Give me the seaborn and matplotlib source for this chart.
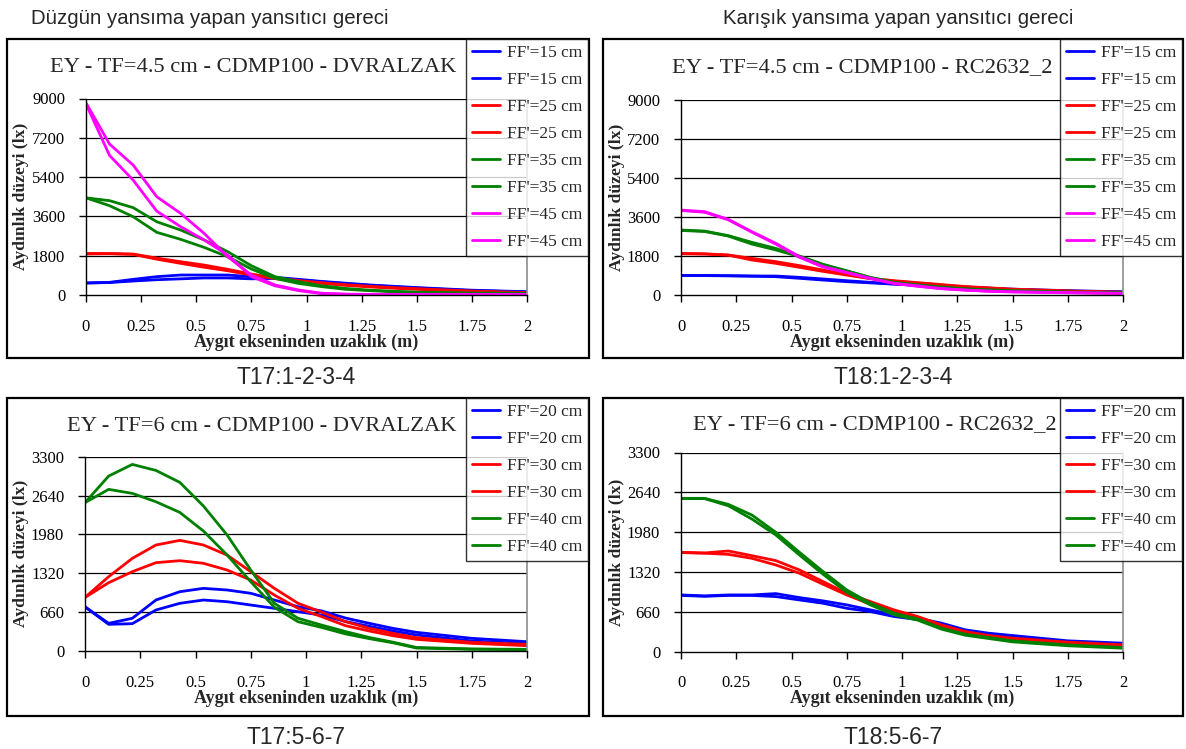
import numpy as np
import pandas as pd
import matplotlib
matplotlib.use("Agg")
import matplotlib.pyplot as plt
from matplotlib.patches import Rectangle
import seaborn as sns

sns.set_theme(style="white")
plt.rcParams["font.family"] = ["Liberation Serif", "DejaVu Serif"]

# Distance from the luminaire axis (m)
distance = [0, 0.107, 0.214, 0.321, 0.429, 0.536, 0.643, 0.75, 0.857, 0.964,
            1.071, 1.179, 1.286, 1.393, 1.5, 1.75, 2.0]

# T17:1-2-3-4  (TF=4.5 cm, DVRALZAK)
t17a_ff15_1 = [550, 580, 717, 840, 915, 915, 915, 840, 810, 717, 620, 540, 460, 400, 340, 220, 150]
t17a_ff15_2 = [550, 570, 640, 700, 740, 780, 780, 740, 760, 690, 600, 520, 440, 380, 320, 200, 140]
t17a_ff25_1 = [1900, 1900, 1875, 1690, 1525, 1370, 1175, 960, 780, 660, 560, 470, 400, 340, 290, 180, 110]
t17a_ff25_2 = [1880, 1890, 1860, 1640, 1450, 1270, 1110, 915, 750, 630, 530, 440, 370, 310, 260, 160, 80]
t17a_ff35_1 = [4450, 4320, 4000, 3355, 2975, 2520, 1980, 1340, 840, 610, 420, 300, 220, 170, 130, 90, 80]
t17a_ff35_2 = [4450, 4090, 3585, 2870, 2550, 2180, 1750, 1190, 760, 530, 380, 260, 200, 150, 110, 70, 50]
t17a_ff45_1 = [8800, 6910, 5950, 4500, 3740, 2820, 1750, 915, 460, 230, 80, 40, 30, 30, 30, 30, 30]
t17a_ff45_2 = [8750, 6390, 5260, 3840, 3130, 2520, 1830, 840, 420, 200, 60, 30, 20, 20, 20, 20, 20]

# T18:1-2-3-4  (TF=4.5 cm, RC2632_2)
t18a_ff15_1 = [900, 900, 890, 875, 875, 815, 740, 660, 585, 510, 470, 420, 370, 320, 270, 200, 150]
t18a_ff15_2 = [900, 895, 885, 870, 845, 770, 690, 615, 560, 500, 450, 400, 350, 300, 250, 180, 130]
t18a_ff25_1 = [1920, 1900, 1846, 1690, 1540, 1355, 1150, 955, 770, 660, 570, 480, 390, 330, 270, 190, 130]
t18a_ff25_2 = [1900, 1890, 1840, 1615, 1460, 1277, 1090, 920, 750, 640, 550, 460, 370, 310, 250, 170, 110]
t18a_ff35_1 = [3000, 2950, 2740, 2430, 2150, 1800, 1415, 1120, 815, 585, 470, 370, 290, 240, 200, 140, 100]
t18a_ff35_2 = [2980, 2930, 2720, 2350, 2080, 1770, 1400, 1100, 800, 570, 450, 350, 270, 220, 180, 120, 90]
t18a_ff45_1 = [3920, 3846, 3490, 2920, 2385, 1770, 1310, 1045, 770, 540, 420, 300, 230, 180, 150, 110, 80]
t18a_ff45_2 = [3900, 3820, 3470, 2900, 2350, 1740, 1290, 1030, 760, 530, 400, 290, 220, 170, 140, 100, 70]

# T17:5-6-7  (TF=6 cm, DVRALZAK)
t17b_ff20_1 = [750, 470, 555, 866, 1007, 1064, 1036, 980, 866, 752, 680, 560, 470, 385, 317, 215, 158]
t17b_ff20_2 = [750, 453, 464, 696, 810, 866, 837, 781, 725, 667, 610, 500, 420, 340, 272, 170, 124]
t17b_ff30_1 = [910, 1262, 1573, 1800, 1879, 1800, 1630, 1347, 1064, 810, 660, 498, 385, 300, 226, 147, 113]
t17b_ff30_2 = [910, 1160, 1347, 1500, 1534, 1489, 1375, 1205, 950, 725, 583, 430, 340, 260, 198, 130, 90]
t17b_ff40_1 = [2520, 2971, 3169, 3067, 2864, 2462, 1970, 1375, 810, 555, 440, 330, 230, 150, 60, 35, 28]
t17b_ff40_2 = [2520, 2745, 2677, 2535, 2354, 2037, 1630, 1177, 742, 497, 400, 290, 210, 140, 50, 30, 22]

# T18:5-6-7  (TF=6 cm, RC2632_2)
t18b_ff20_1 = [938, 922, 938, 938, 960, 894, 839, 773, 690, 607, 552, 470, 359, 303, 265, 177, 138]
t18b_ff20_2 = [930, 915, 930, 930, 911, 855, 800, 717, 662, 580, 530, 450, 340, 285, 245, 160, 120]
t18b_ff30_1 = [1645, 1634, 1667, 1589, 1507, 1352, 1159, 966, 828, 690, 580, 441, 331, 265, 221, 155, 110]
t18b_ff30_2 = [1640, 1630, 1611, 1545, 1435, 1297, 1115, 938, 784, 662, 560, 420, 310, 245, 200, 140, 95]
t18b_ff40_1 = [2540, 2540, 2440, 2263, 1976, 1645, 1325, 1021, 800, 635, 540, 386, 287, 232, 177, 110, 66]
t18b_ff40_2 = [2535, 2535, 2417, 2196, 1932, 1600, 1280, 982, 773, 607, 520, 370, 270, 215, 160, 95, 55]

labels_a = ["FF'=15 cm", "FF'=15 cm", "FF'=25 cm", "FF'=25 cm",
            "FF'=35 cm", "FF'=35 cm", "FF'=45 cm", "FF'=45 cm"]
labels_b = ["FF'=20 cm", "FF'=20 cm", "FF'=30 cm", "FF'=30 cm",
            "FF'=40 cm", "FF'=40 cm"]
colors_a = ["#0000FF", "#0000FF", "#FF0000", "#FF0000",
            "#008000", "#008000", "#FF00FF", "#FF00FF"]
colors_b = ["#0000FF", "#0000FF", "#FF0000", "#FF0000", "#008000", "#008000"]

xticks = [0, 0.25, 0.5, 0.75, 1, 1.25, 1.5, 1.75, 2]
xticklabels = ["0", "0.25", "0.5", "0.75", "1", "1.25", "1.5", "1.75", "2"]
yticks_a = [0, 1800, 3600, 5400, 7200, 9000]
yticks_b = [0, 660, 1320, 1980, 2640, 3300]

titles = ["EY - TF=4.5 cm - CDMP100 - DVRALZAK", "EY - TF=4.5 cm - CDMP100 - RC2632_2",
          "EY - TF=6 cm - CDMP100 - DVRALZAK", "EY - TF=6 cm - CDMP100 - RC2632_2"]
captions = ["T17:1-2-3-4", "T18:1-2-3-4", "T17:5-6-7", "T18:5-6-7"]
headers = ["Düzgün yansıma yapan yansıtıcı gereci", "Karışık yansıma yapan yansıtıcı gereci"]
xlabel = "Aygıt ekseninden uzaklık (m)"
ylabel = "Aydınlık düzeyi (lx)"

W, H = 1186, 749
fig = plt.figure(figsize=(W / 100, H / 100), dpi=100)


def fx(px):
    return px / W


def fy(py):
    return 1 - py / H


panels = [
    dict(series=[t17a_ff15_1, t17a_ff15_2, t17a_ff25_1, t17a_ff25_2,
                 t17a_ff35_1, t17a_ff35_2, t17a_ff45_1, t17a_ff45_2],
         labels=labels_a, colors=colors_a, yticks=yticks_a,
         plot=(86, 98.5, 527, 295), box=(7, 39, 589, 358),
         title_xy=(253, 68), caption_xy=(296, 378), legend_top=39),
    dict(series=[t18a_ff15_1, t18a_ff15_2, t18a_ff25_1, t18a_ff25_2,
                 t18a_ff35_1, t18a_ff35_2, t18a_ff45_1, t18a_ff45_2],
         labels=labels_a, colors=colors_a, yticks=yticks_a,
         plot=(681, 100, 1123, 295), box=(603, 39, 1183, 358),
         title_xy=(862, 68), caption_xy=(893, 378), legend_top=39),
    dict(series=[t17b_ff20_1, t17b_ff20_2, t17b_ff30_1, t17b_ff30_2,
                 t17b_ff40_1, t17b_ff40_2],
         labels=labels_b, colors=colors_b, yticks=yticks_b,
         plot=(85, 456.7, 527, 651), box=(7, 398, 589, 716),
         title_xy=(262, 427), caption_xy=(296, 738), legend_top=398),
    dict(series=[t18b_ff20_1, t18b_ff20_2, t18b_ff30_1, t18b_ff30_2,
                 t18b_ff40_1, t18b_ff40_2],
         labels=labels_b, colors=colors_b, yticks=yticks_b,
         plot=(681, 452.5, 1123, 651.5), box=(603, 398, 1183, 716),
         title_xy=(875, 425), caption_xy=(893, 738), legend_top=398),
]

for i, p in enumerate(panels):
    bx0, by0, bx1, by1 = p["box"]
    fig.patches.append(Rectangle((fx(bx0), fy(by1)), fx(bx1 - bx0), (by1 - by0) / H,
                                 transform=fig.transFigure, fill=False,
                                 edgecolor="black", linewidth=1.6, zorder=0))
    x0, y0, x1, y1 = p["plot"]
    ax = fig.add_axes([fx(x0), fy(y1), fx(x1 - x0), (y1 - y0) / H])
    ax.set_facecolor("none")

    handles = []
    for vals, lab, col in zip(p["series"], p["labels"], p["colors"]):
        df = pd.DataFrame({"x": distance, "y": vals})
        sns.lineplot(data=df, x="x", y="y", ax=ax, color=col, linewidth=2.0,
                     sort=False, legend=False)
        handles.append(plt.Line2D([], [], color=col, linewidth=2.0, label=lab))

    top = p["yticks"][-1]
    ax.set_xlim(0, 2)
    ax.set_ylim(0, top)
    ax.set_xticks(xticks)
    ax.set_xticklabels(xticklabels)
    ax.set_yticks(p["yticks"])
    ax.set_yticklabels([str(v) for v in p["yticks"]])
    for v in p["yticks"][1:]:
        ax.axhline(v, color="black", linewidth=0.9, zorder=0.5)
    for side in ["left", "bottom"]:
        ax.spines[side].set_color("black")
        ax.spines[side].set_linewidth(1.0)
    ax.spines["top"].set_visible(False)
    ax.spines["right"].set_color("#8c8c8c")
    ax.spines["right"].set_linewidth(1.2)
    ax.tick_params(axis="x", direction="out", length=5, width=1, pad=12,
                   labelsize=12, colors="black", bottom=True)
    ax.tick_params(axis="y", direction="out", length=5, width=1, pad=10,
                   labelsize=12, colors="black", left=True)

    ax.set_xlabel(xlabel, fontsize=13, fontweight="bold", va="center")
    ax.xaxis.set_label_coords(0.5, -47 / (y1 - y0))
    ax.set_ylabel(ylabel, fontsize=12.6, fontweight="bold", va="center")
    ax.yaxis.set_label_coords(-(x0 - (bx0 + 14)) / (x1 - x0), 0.5)

    fig.text(fx(p["title_xy"][0]), fy(p["title_xy"][1]), titles[i],
             ha="center", va="center", fontsize=16.2)
    fig.text(fx(p["caption_xy"][0]), fy(p["caption_xy"][1]), captions[i],
             ha="center", va="center", fontsize=16.5, family="Liberation Sans")

    leg = fig.legend(handles=handles, loc="upper right",
                     bbox_to_anchor=(fx(bx1 - 1), fy(p["legend_top"])),
                     bbox_transform=fig.transFigure, frameon=True, fancybox=False,
                     fontsize=12.5, handlelength=1.6, handletextpad=0.4,
                     labelspacing=0.62, borderpad=0.35, borderaxespad=0)
    leg.get_frame().set_edgecolor("black")
    leg.get_frame().set_linewidth(1.0)

fig.text(fx(210), fy(18), headers[0], ha="center", va="center",
         fontsize=14.7, family="Liberation Sans")
fig.text(fx(898), fy(18), headers[1], ha="center", va="center",
         fontsize=14.7, family="Liberation Sans")

fig.savefig("out.png", dpi=100, facecolor="white")
